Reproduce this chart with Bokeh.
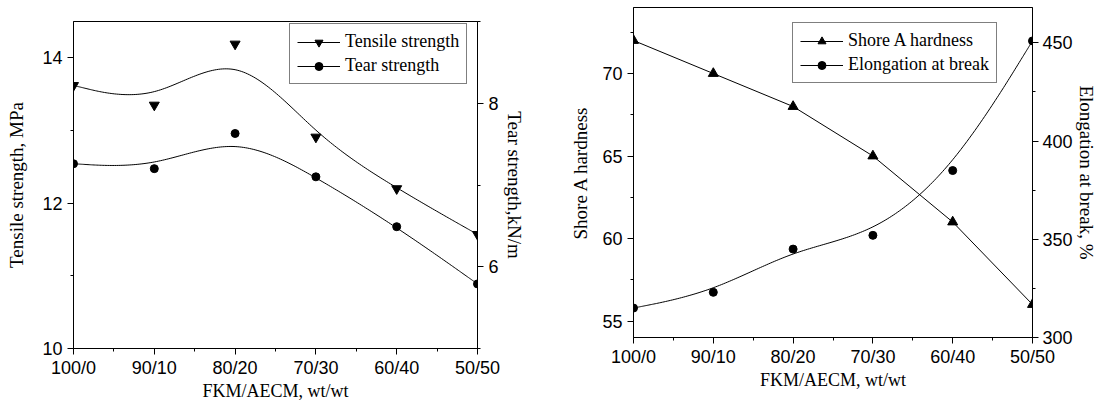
import numpy as np
from bokeh.plotting import figure
from bokeh.models import Range1d, LinearAxis, FixedTicker, Legend, LegendItem, Spacer
from bokeh.layouts import row, column
from bokeh.embed import file_html
from bokeh.resources import INLINE

# ---- data ----
blends = ["100/0", "90/10", "80/20", "70/30", "60/40", "50/50"]
tensile = [13.62, 13.35, 14.19, 12.91, 12.20, 11.57]   # MPa
tear = [7.26, 7.20, 7.63, 7.10, 6.49, 5.79]            # kN/m
shore = [72, 70, 68, 65, 61, 56]                       # Shore A
elong = [315, 323, 345, 352, 385, 451]                 # %

xs = list(range(len(blends)))

TICK_FONT = "Liberation Sans"
LABEL_FONT = "Liberation Serif"


def bspline(xv, yv, n=40):
    """Uniform cubic B-spline smoothing of the data (data points used as
    control points, end points repeated so the curve meets them)."""
    P = np.column_stack([xv, yv]).astype(float)
    Q = np.vstack([P[:1], P[:1], P, P[-1:], P[-1:]])
    u = np.linspace(0, 1, n)
    b0 = (1 - u) ** 3 / 6
    b1 = (3 * u ** 3 - 6 * u ** 2 + 4) / 6
    b2 = (-3 * u ** 3 + 3 * u ** 2 + 3 * u + 1) / 6
    b3 = u ** 3 / 6
    pts = []
    for j in range(len(Q) - 3):
        seg = (np.outer(b0, Q[j]) + np.outer(b1, Q[j + 1]) +
               np.outer(b2, Q[j + 2]) + np.outer(b3, Q[j + 3]))
        pts.append(seg)
    pts = np.vstack(pts)
    return pts[:, 0], pts[:, 1]


def style_axis(ax, ticks, minor, label_size="19px", standoff=10, label_standoff=5):
    ax.ticker = FixedTicker(ticks=ticks, minor_ticks=minor)
    ax.major_tick_out = 6
    ax.major_tick_in = 0
    ax.minor_tick_out = 3
    ax.minor_tick_in = 0
    ax.axis_line_color = "black"
    ax.major_tick_line_color = "black"
    ax.minor_tick_line_color = "black"
    ax.major_label_text_font = TICK_FONT
    ax.major_label_text_font_size = "18px"
    ax.major_label_text_color = "black"
    ax.major_label_standoff = label_standoff
    ax.axis_label_text_font = LABEL_FONT
    ax.axis_label_text_font_size = label_size
    ax.axis_label_text_font_style = "normal"
    ax.axis_label_text_color = "black"
    ax.axis_label_standoff = standoff


def make_fig(fw, fh, yrange, bl, br, bt, bb):
    p = figure(frame_width=fw, frame_height=fh, x_range=Range1d(0, 5), y_range=yrange,
               output_backend="svg", toolbar_location=None,
               min_border_left=bl, min_border_right=br,
               min_border_top=bt, min_border_bottom=bb)
    p.xgrid.visible = False
    p.ygrid.visible = False
    p.outline_line_color = "black"
    p.outline_line_alpha = 1
    p.background_fill_color = "white"
    p.border_fill_color = "white"
    xa = p.xaxis[0]
    style_axis(xa, xs, [0.5, 1.5, 2.5, 3.5, 4.5], label_size="18px", standoff=0, label_standoff=3)
    xa.major_label_overrides = {i: b for i, b in enumerate(blends)}
    xa.axis_label = "FKM/AECM, wt/wt"
    return p


# ---------------- left chart ----------------
p1 = make_fig(404, 327, Range1d(10, 14.5), 73, 80, 7, 52)
style_axis(p1.yaxis[0], [10, 12, 14], [11, 13], standoff=12)
p1.yaxis[0].axis_label = "Tensile strength, MPa"
p1.extra_y_ranges = {"tear": Range1d(5, 9)}
ax_r = LinearAxis(y_range_name="tear", axis_label="Tear strength,kN/m")
style_axis(ax_r, [6, 8], [5, 7, 9], standoff=2)
p1.add_layout(ax_r, "right")

cx, cy = bspline(xs, tensile)
l_t = p1.line(cx, cy, line_color="black", line_width=1)
s_t = p1.scatter(xs, tensile, marker="inverted_triangle", size=10, color="black")
cx, cy = bspline(xs, tear)
l_r = p1.line(cx, cy, line_color="black", line_width=1, y_range_name="tear")
s_r = p1.scatter(xs, tear, marker="circle", size=8, color="black", y_range_name="tear")

leg1 = Legend(items=[LegendItem(label="Tensile strength", renderers=[l_t, s_t]),
                     LegendItem(label="Tear strength", renderers=[l_r, s_r])],
              location=(216, 264))

# ---------------- right chart ----------------
p2 = make_fig(399, 330, Range1d(54, 74), 76, 68, 7, 58)
style_axis(p2.yaxis[0], [55, 60, 65, 70], [57.5, 62.5, 67.5, 72.5], standoff=8)
p2.yaxis[0].axis_label = "Shore A hardness"
p2.extra_y_ranges = {"elong": Range1d(300, 468)}
ax_e = LinearAxis(y_range_name="elong", axis_label="Elongation at break, %")
style_axis(ax_e, [300, 350, 400, 450], [325, 375, 425], standoff=0, label_standoff=4)
p2.add_layout(ax_e, "right")

l_s = p2.line(xs, shore, line_color="black", line_width=1)
s_s = p2.scatter(xs, shore, marker="triangle", size=10, color="black")
cx, cy = bspline(xs, elong)
l_e = p2.line(cx, cy, line_color="black", line_width=1, y_range_name="elong")
s_e = p2.scatter(xs, elong, marker="circle", size=8, color="black", y_range_name="elong")

leg2 = Legend(items=[LegendItem(label="Shore A hardness", renderers=[l_s, s_s]),
                     LegendItem(label="Elongation at break", renderers=[l_e, s_e])],
              location=(159, 254))

for lg in (leg1, leg2):
    lg.label_text_font = LABEL_FONT
    lg.label_text_font_size = "18px"
    lg.label_text_color = "black"
    lg.glyph_width = 43
    lg.glyph_height = 20
    lg.label_height = 20
    lg.label_standoff = 5
    lg.padding = 7
    lg.spacing = 3
    lg.margin = 0
    lg.border_line_color = "black"
    lg.border_line_width = 1
    lg.background_fill_color = "white"
    lg.background_fill_alpha = 1

p1.add_layout(leg1)
p2.add_layout(leg2)

layout = row(column(Spacer(width=10, height=14), p1), p2)
open("out.html", "w").write(file_html(layout, INLINE))
